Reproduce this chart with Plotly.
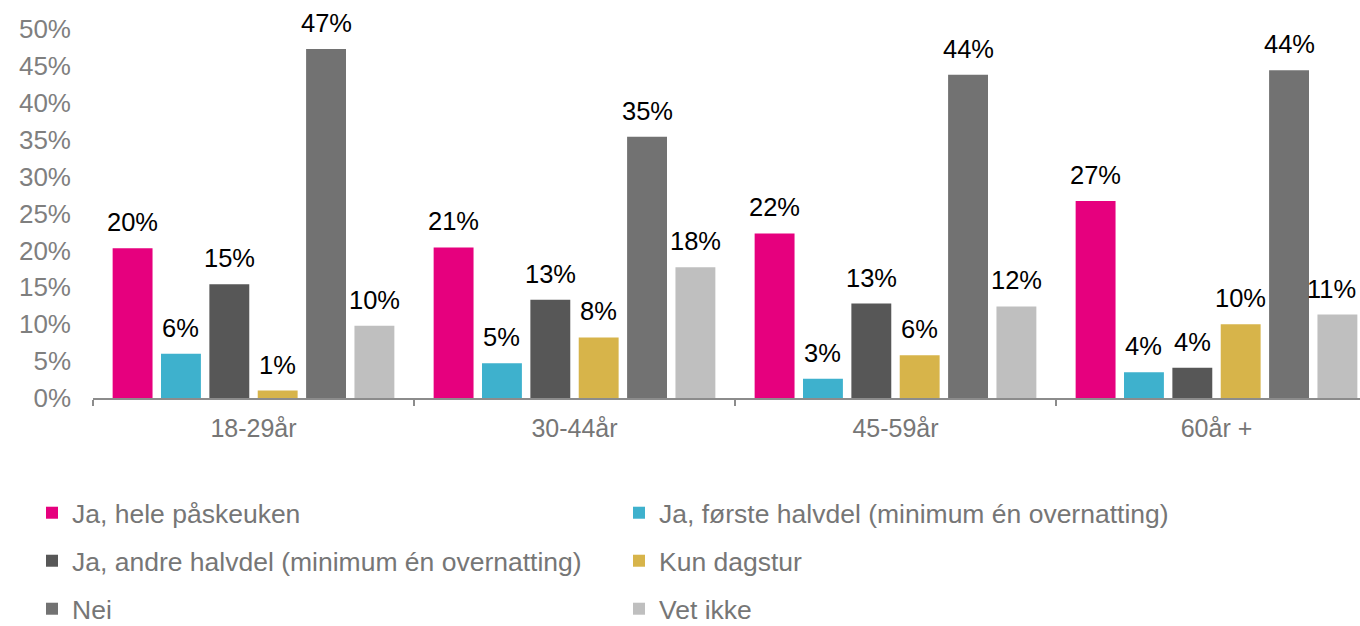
import plotly.graph_objects as go

categories = ["18-29år", "30-44år", "45-59år", "60år +"]

series_names = [
    "Ja, hele påskeuken",
    "Ja, første halvdel (minimum én overnatting)",
    "Ja, andre halvdel (minimum én overnatting)",
    "Kun dagstur",
    "Nei",
    "Vet ikke",
]
series_colors = ["#E6007E", "#3EB1CD", "#575757", "#D7B44A", "#727272", "#BFBFBF"]

hele = [20.3, 20.4, 22.3, 26.7]
forste = [6.0, 4.7, 2.6, 3.5]
andre = [15.4, 13.3, 12.8, 4.1]
dagstur = [1.0, 8.2, 5.8, 10.0]
nei = [47.3, 35.4, 43.8, 44.4]
vet_ikke = [9.8, 17.7, 12.4, 11.3]

hele_lbl = ["20%", "21%", "22%", "27%"]
forste_lbl = ["6%", "5%", "3%", "4%"]
andre_lbl = ["15%", "13%", "13%", "4%"]
dagstur_lbl = ["1%", "8%", "6%", "10%"]
nei_lbl = ["47%", "35%", "44%", "44%"]
vet_ikke_lbl = ["10%", "18%", "12%", "11%"]

y_ticks = [0, 5, 10, 15, 20, 25, 30, 35, 40, 45, 50]
y_tick_text = ["0%", "5%", "10%", "15%", "20%", "25%", "30%", "35%", "40%", "45%", "50%"]

values = [hele, forste, andre, dagstur, nei, vet_ikke]
labels = [hele_lbl, forste_lbl, andre_lbl, dagstur_lbl, nei_lbl, vet_ikke_lbl]

FONT = "Liberation Sans, Arial, sans-serif"
GREY = "#767676"
BARGAP = 0.096
BARGROUPGAP = 0.175

W, H = 1360, 626
ML, MR, MT, MB = 93, 0, 29, 228
plot_w = W - ML - MR
plot_h = H - MT - MB

fig = go.Figure()
legend_ids = ["legend", "legend2", "legend3", "legend4", "legend5", "legend6"]
for i, (name, col, vals) in enumerate(zip(series_names, series_colors, values)):
    fig.add_trace(go.Bar(
        x=categories, y=vals, name=name,
        marker=dict(color=col, line=dict(width=0)),
        legend=legend_ids[i],
        hoverinfo="skip",
    ))

# data labels above bars
n = len(values)
slot = (1 - BARGAP) / n
annotations = []
for i in range(n):
    off = -(1 - BARGAP) / 2 + (i + 0.5) * slot
    for j, v in enumerate(values[i]):
        edge = (i == n - 1 and j == len(categories) - 1)
        annotations.append(dict(
            x=j + off, y=v, xref="x", yref="y", text=labels[i][j],
            showarrow=False, yanchor="bottom", xanchor="center", yshift=10,
            xshift=-6 if edge else 0,
            font=dict(family=FONT, size=25.5, color="#000000"),
        ))

# legend positions (two columns, three rows), in container pixels
row_px = [513, 561, 609]
col_px = [32, 619]
legend_layout = {}
for k, lid in enumerate(legend_ids):
    r, c = k // 2, k % 2
    legend_layout[lid] = dict(
        xref="container", yref="container",
        x=col_px[c] / W,
        y=1 - row_px[r] / H,
        xanchor="left", yanchor="middle",
        orientation="h",
        font=dict(family=FONT, size=26.5, color=GREY),
        bgcolor="rgba(0,0,0,0)",
        borderwidth=0,
    )

x_right = -0.5 + plot_w / 321.0

fig.update_layout(
    width=W, height=H,
    margin=dict(l=ML, r=MR, t=MT, b=MB, autoexpand=False),
    paper_bgcolor="white", plot_bgcolor="white",
    barmode="group", bargap=BARGAP, bargroupgap=BARGROUPGAP,
    showlegend=True,
    annotations=annotations,
    font=dict(family=FONT, size=26, color=GREY),
    xaxis=dict(
        type="category", range=[-0.5, x_right], automargin=False,
        showline=True, linecolor="#8C8C8C", linewidth=1.5,
        ticks="outside", tickson="boundaries", ticklen=6, tickcolor="#8C8C8C", tickwidth=1.5,
        tickfont=dict(family=FONT, size=25, color=GREY),
        ticklabelstandoff=7,
        showgrid=False, zeroline=False,
    ),
    yaxis=dict(
        range=[0, 50], tickvals=y_ticks, ticktext=y_tick_text, automargin=False,
        showline=False, showgrid=False, zeroline=False, ticks="",
        tickfont=dict(family=FONT, size=26, color="#7F7F7F"),
        ticklabelstandoff=21,
    ),
    **legend_layout,
)
fig.update_traces(cliponaxis=False)

fig.write_html(
    "out.html",
    config={"displayModeBar": False},
    post_script="document.body.style.margin='0px';document.body.style.overflow='hidden';",
)
